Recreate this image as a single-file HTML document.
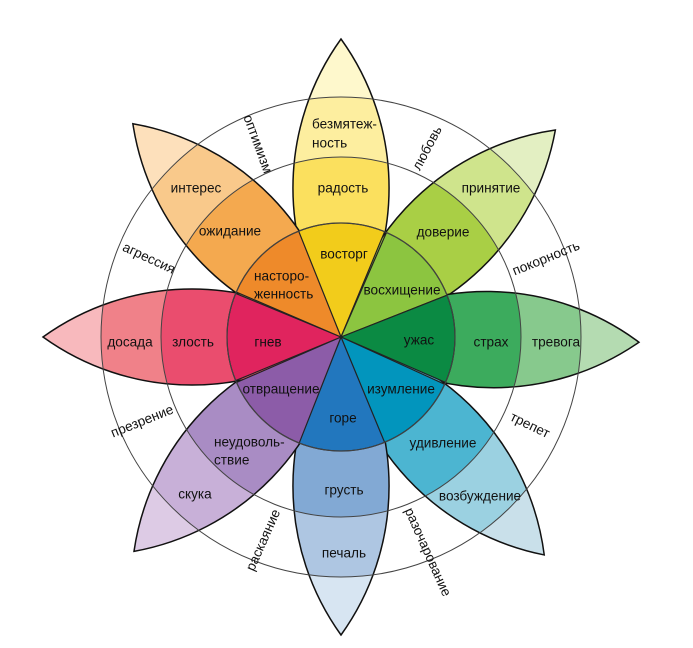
<!DOCTYPE html>
<html><head><meta charset="utf-8"><style>
html,body{margin:0;padding:0;background:#fff;width:693px;height:648px;overflow:hidden}
svg{display:block}
svg text{font-family:"Liberation Sans","DejaVu Sans",sans-serif;font-size:13.6px;fill:#111}
</style></head><body>
<svg width="693" height="648" viewBox="0 0 693 648" xmlns="http://www.w3.org/2000/svg">
<defs>
<clipPath id="lens"><path d="M0,0 A255,255 0 0,1 0,-298 A255,255 0 0,1 0,0 Z"/></clipPath>
</defs>
<g transform="translate(341,337)">
<g transform="rotate(0)"><g clip-path="url(#lens)"><circle r="300" fill="#fef8cc"/><circle r="240" fill="#fdee9f"/><circle r="180" fill="#fbe05e"/></g><path d="M0,0 A255,255 0 0,1 0,-298 A255,255 0 0,1 0,0 Z" fill="none" stroke="#111" stroke-width="1.5"/></g>
<g transform="rotate(46)"><g clip-path="url(#lens)"><circle r="300" fill="#e3efc2"/><circle r="240" fill="#cfe48c"/><circle r="180" fill="#a9cf45"/></g><path d="M0,0 A255,255 0 0,1 0,-298 A255,255 0 0,1 0,0 Z" fill="none" stroke="#111" stroke-width="1.5"/></g>
<g transform="rotate(91)"><g clip-path="url(#lens)"><circle r="300" fill="#b4dbb1"/><circle r="240" fill="#87c98d"/><circle r="180" fill="#3cab5d"/></g><path d="M0,0 A255,255 0 0,1 0,-298 A255,255 0 0,1 0,0 Z" fill="none" stroke="#111" stroke-width="1.5"/></g>
<g transform="rotate(137)"><g clip-path="url(#lens)"><circle r="300" fill="#c9e0ea"/><circle r="240" fill="#9bd1e1"/><circle r="180" fill="#4cb5d1"/></g><path d="M0,0 A255,255 0 0,1 0,-298 A255,255 0 0,1 0,0 Z" fill="none" stroke="#111" stroke-width="1.5"/></g>
<g transform="rotate(180)"><g clip-path="url(#lens)"><circle r="300" fill="#d7e5f2"/><circle r="240" fill="#aec6e2"/><circle r="180" fill="#82a9d4"/></g><path d="M0,0 A255,255 0 0,1 0,-298 A255,255 0 0,1 0,0 Z" fill="none" stroke="#111" stroke-width="1.5"/></g>
<g transform="rotate(224)"><g clip-path="url(#lens)"><circle r="300" fill="#ddcbe5"/><circle r="240" fill="#c8b0d8"/><circle r="180" fill="#a98cc4"/></g><path d="M0,0 A255,255 0 0,1 0,-298 A255,255 0 0,1 0,0 Z" fill="none" stroke="#111" stroke-width="1.5"/></g>
<g transform="rotate(270)"><g clip-path="url(#lens)"><circle r="300" fill="#f8b9bd"/><circle r="240" fill="#f08189"/><circle r="180" fill="#ea4d6e"/></g><path d="M0,0 A255,255 0 0,1 0,-298 A255,255 0 0,1 0,0 Z" fill="none" stroke="#111" stroke-width="1.5"/></g>
<g transform="rotate(315.7)"><g clip-path="url(#lens)"><circle r="300" fill="#fde0bb"/><circle r="240" fill="#f9c98b"/><circle r="180" fill="#f4a94f"/></g><path d="M0,0 A255,255 0 0,1 0,-298 A255,255 0 0,1 0,0 Z" fill="none" stroke="#111" stroke-width="1.5"/></g>
<g stroke="#222" stroke-width="1.2">
<path transform="rotate(0)" d="M0,0 L-43.6,-105.3 A114,114 0 0,1 43.6,-105.3 Z" fill="#f2cc1b"/>
<path transform="rotate(46)" d="M0,0 L-43.6,-105.3 A114,114 0 0,1 43.6,-105.3 Z" fill="#8cc540"/>
<path transform="rotate(91)" d="M0,0 L-43.6,-105.3 A114,114 0 0,1 43.6,-105.3 Z" fill="#0b8a43"/>
<path transform="rotate(137)" d="M0,0 L-43.6,-105.3 A114,114 0 0,1 43.6,-105.3 Z" fill="#0295bd"/>
<path transform="rotate(180)" d="M0,0 L-43.6,-105.3 A114,114 0 0,1 43.6,-105.3 Z" fill="#2277be"/>
<path transform="rotate(224)" d="M0,0 L-43.6,-105.3 A114,114 0 0,1 43.6,-105.3 Z" fill="#8c5ca8"/>
<path transform="rotate(270)" d="M0,0 L-43.6,-105.3 A114,114 0 0,1 43.6,-105.3 Z" fill="#e0245e"/>
<path transform="rotate(315.7)" d="M0,0 L-43.6,-105.3 A114,114 0 0,1 43.6,-105.3 Z" fill="#ee8a2a"/>
</g>
<g fill="none" stroke="#444" stroke-width="1">
<circle r="114"/><circle r="180"/><circle r="240"/>
</g>
</g>
<g text-anchor="middle" dominant-baseline="central">
<text x="312" y="124" text-anchor="start">безмятеж-</text>
<text x="312" y="143" text-anchor="start">ность</text>
<text x="343" y="188">радость</text>
<text x="344" y="254">восторг</text>
<text x="254" y="276" text-anchor="start">насторо-</text>
<text x="254" y="294" text-anchor="start">женность</text>
<text x="230" y="231">ожидание</text>
<text x="196" y="188">интерес</text>
<text x="491" y="188">принятие</text>
<text x="443" y="232">доверие</text>
<text x="402" y="290">восхищение</text>
<text x="419" y="340">ужас</text>
<text x="491" y="342">страх</text>
<text x="556" y="342">тревога</text>
<text x="268" y="342">гнев</text>
<text x="193" y="342">злость</text>
<text x="130" y="342">досада</text>
<text x="281" y="389">отвращение</text>
<text x="401" y="389">изумление</text>
<text x="343" y="418">горе</text>
<text x="443" y="443">удивление</text>
<text x="214" y="442" text-anchor="start">неудоволь-</text>
<text x="214" y="460" text-anchor="start">ствие</text>
<text x="195" y="494">скука</text>
<text x="344" y="490">грусть</text>
<text x="480" y="496">возбуждение</text>
<text x="344" y="553">печаль</text>
<text transform="translate(258,144) rotate(70)">оптимизм</text>
<text transform="translate(427,148) rotate(-62)">любовь</text>
<text transform="translate(546,258) rotate(-22)">покорность</text>
<text transform="translate(530,425) rotate(26)">трепет</text>
<text transform="translate(428,552) rotate(66)">разочарование</text>
<text transform="translate(263,540) rotate(-66)">раскаяние</text>
<text transform="translate(142,421) rotate(-22)">презрение</text>
<text transform="translate(149,258) rotate(25)">агрессия</text>
</g>
</svg>
</body></html>
